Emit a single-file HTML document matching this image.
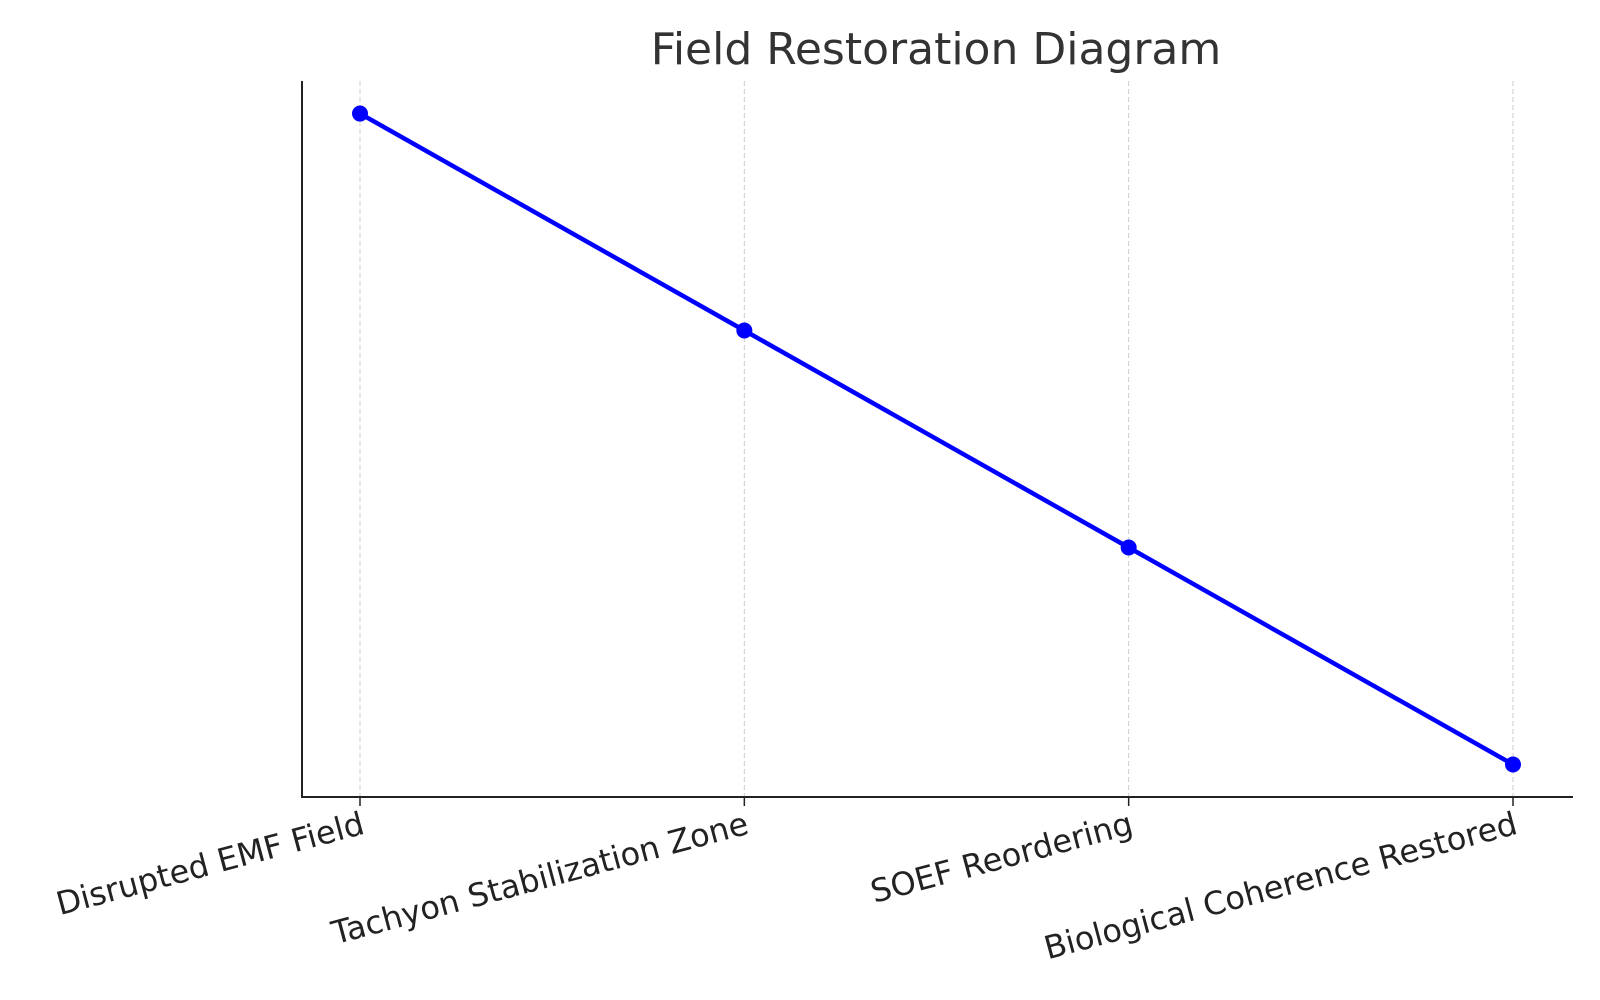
<!DOCTYPE html>
<html><head><meta charset="utf-8"><style>body{margin:0;background:#fff}svg{display:block}</style></head>
<body>
<svg width="1600" height="1000" font-family="'DejaVu Sans','Liberation Sans',sans-serif">
<text x="936" y="64" font-size="44" text-anchor="middle" fill="#333">Field Restoration Diagram</text>
<g id="grid"></g>
<g id="axes"></g>
<g id="series"></g>
</svg>
<script>
const categories = ["Disrupted EMF Field","Tachyon Stabilization Zone","SOEF Reordering","Biological Coherence Restored"];
const values = [4,3,2,1];
const ns="http://www.w3.org/2000/svg";
const L=302,R=1573,T=81,B=797;
const x0=360,x1=1513;
const ymin=0.85,ymax=4.15;
const xs=i=>x0+(x1-x0)*i/(categories.length-1);
const ys=v=>B-(v-ymin)/(ymax-ymin)*(B-T);
function mk(t,a,p){const e=document.createElementNS(ns,t);for(const k in a)e.setAttribute(k,a[k]);p.appendChild(e);return e;}
const grid=document.getElementById('grid'),axes=document.getElementById('axes'),ser=document.getElementById('series');
categories.forEach((c,i)=>{
  const g=mk('line',{x1:xs(i),x2:xs(i),y1:T,y2:B,stroke:'#ccc','stroke-width':1,'stroke-dasharray':'5,3'},grid);
  
  
  const tk=mk('line',{x1:xs(i),x2:xs(i),y1:B,y2:B+9,stroke:'#222','stroke-width':1.5},axes);
  
  
  const tx=mk('text',{x:xs(i),y:B+37,'font-size':32,fill:'#222','text-anchor':'end',transform:`rotate(-15 ${xs(i)} ${B+14})`},axes);
  tx.textContent=c;
  
  
});
const ya=mk('line',{x1:L,x2:L,y1:T,y2:B,stroke:'#222','stroke-width':2},axes);


const xa=mk('line',{x1:L-1,x2:R,y1:B,y2:B,stroke:'#222','stroke-width':2},axes);


const pl=mk('polyline',{points:values.map((v,i)=>xs(i)+','+ys(v)).join(' '),fill:'none',stroke:'#0000ff','stroke-width':4.5},ser);


values.forEach((v,i)=>{
  const c=mk('circle',{cx:xs(i),cy:ys(v),r:8,fill:'#0000ff'},ser);
  
  
});
</script>
</body></html>
